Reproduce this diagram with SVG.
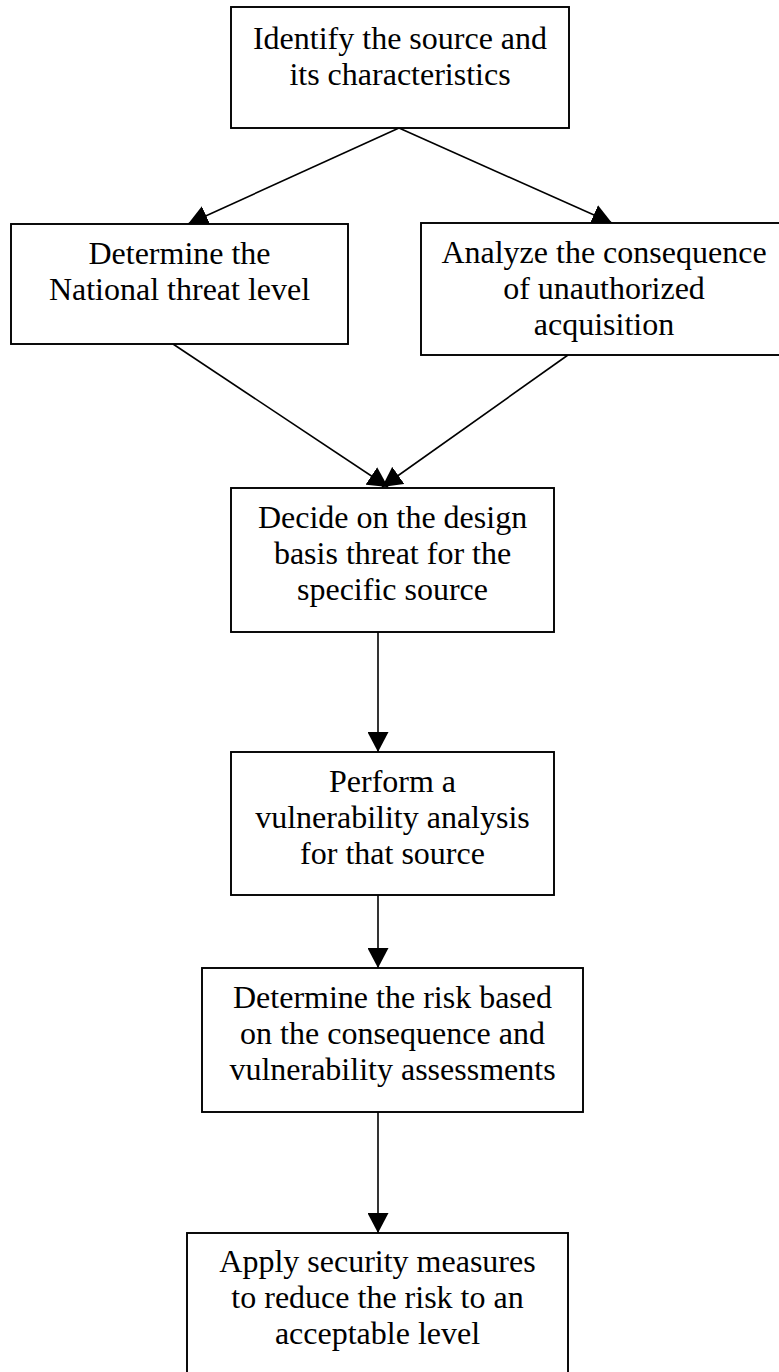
<svg xmlns="http://www.w3.org/2000/svg" width="779" height="1372" viewBox="0 0 779 1372">
  <style>
    .box { fill: #ffffff; stroke: #000000; stroke-width: 1.9; }
    .lbl { font-family: "Liberation Serif", "Times New Roman", serif; font-size: 32px; fill: #000000; text-anchor: middle; }
    .conn { stroke: #000000; stroke-width: 1.6; fill: none; marker-end: url(#arrow); }
  </style>
  <defs>
    <marker id="arrow" markerUnits="userSpaceOnUse" viewBox="0 0 20 21" markerWidth="20" markerHeight="21" refX="20" refY="10.5" orient="auto">
      <path d="M0,0 L20,10.5 L0,21 z" fill="#000000"/>
    </marker>
  </defs>
  <rect x="0" y="0" width="779" height="1372" fill="#ffffff"/>

  <g id="connectors">
    <line class="conn" x1="399" y1="128" x2="188" y2="224"/>
    <line class="conn" x1="399" y1="128" x2="612" y2="223"/>
    <line class="conn" x1="173" y1="344" x2="388" y2="487"/>
    <line class="conn" x1="568" y1="355" x2="382" y2="487"/>
    <line class="conn" x1="378" y1="632" x2="378" y2="752"/>
    <line class="conn" x1="378" y1="895" x2="378" y2="968"/>
    <line class="conn" x1="378" y1="1112" x2="378" y2="1233"/>
  </g>

  <g id="node1">
    <rect class="box" x="231" y="7" width="338" height="121"/>
    <text class="lbl" x="400" y="49">Identify the source and</text>
    <text class="lbl" x="400" y="85">its characteristics</text>
  </g>
  <g id="node2">
    <rect class="box" x="11" y="224" width="337" height="120"/>
    <text class="lbl" x="179.5" y="264">Determine the</text>
    <text class="lbl" x="179.5" y="300">National threat level</text>
  </g>
  <g id="node3">
    <rect class="box" x="421" y="223" width="366" height="132"/>
    <text class="lbl" x="604" y="263">Analyze the consequence</text>
    <text class="lbl" x="604" y="299">of unauthorized</text>
    <text class="lbl" x="604" y="335">acquisition</text>
  </g>
  <g id="node4">
    <rect class="box" x="231" y="488" width="323" height="144"/>
    <text class="lbl" x="392.5" y="528">Decide on the design</text>
    <text class="lbl" x="392.5" y="564">basis threat for the</text>
    <text class="lbl" x="392.5" y="600">specific source</text>
  </g>
  <g id="node5">
    <rect class="box" x="231" y="752" width="323" height="143"/>
    <text class="lbl" x="392.5" y="792">Perform a</text>
    <text class="lbl" x="392.5" y="828">vulnerability analysis</text>
    <text class="lbl" x="392.5" y="864">for that source</text>
  </g>
  <g id="node6">
    <rect class="box" x="202" y="968" width="381" height="144"/>
    <text class="lbl" x="392.5" y="1008">Determine the risk based</text>
    <text class="lbl" x="392.5" y="1044">on the consequence and</text>
    <text class="lbl" x="392.5" y="1080">vulnerability assessments</text>
  </g>
  <g id="node7">
    <rect class="box" x="187" y="1233" width="381" height="150"/>
    <text class="lbl" x="377.5" y="1272">Apply security measures</text>
    <text class="lbl" x="377.5" y="1308">to reduce the risk to an</text>
    <text class="lbl" x="377.5" y="1344">acceptable level</text>
  </g>
</svg>
